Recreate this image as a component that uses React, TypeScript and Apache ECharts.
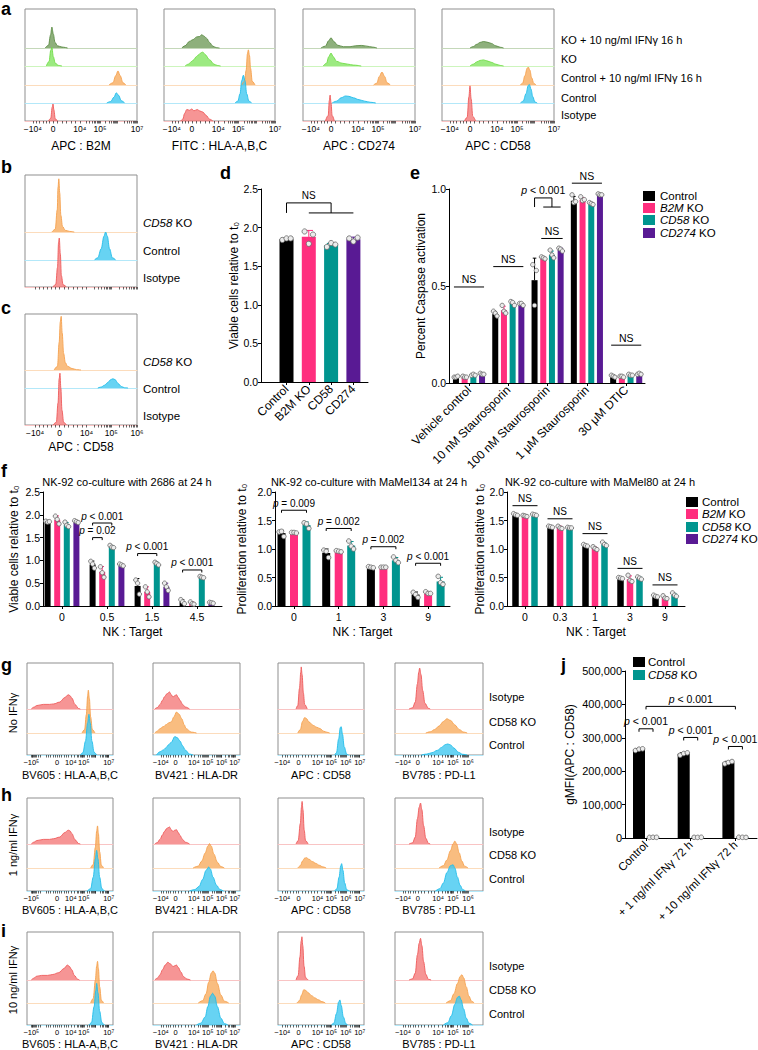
import React, { useEffect, useRef } from 'react';
import * as echarts from 'echarts';

const FONT = '"Liberation Sans", Arial, Helvetica, sans-serif';
const BLACK = '#000000';
const PINK = '#ff2e7e';
const TEAL = '#00958f';
const PURPLE = '#591a94';

const FLOW: Record<string, { line: string; fill: string; base: string }> = {
  dk: { line: '#5b8c45', fill: 'rgba(98,146,74,0.72)', base: '#c4d8b9' },
  lt: { line: '#6fdc45', fill: 'rgba(118,226,80,0.72)', base: '#cdf5bd' },
  or: { line: '#f5a24f', fill: 'rgba(247,170,92,0.78)', base: '#fcdcbc' },
  cy: { line: '#22bdea', fill: 'rgba(60,198,240,0.78)', base: '#b3e8f9' },
  rd: { line: '#ee5a5a', fill: 'rgba(242,108,108,0.72)', base: '#f9c4c4' },
};

// ---------- flow cytometry axes (display position in % of plot width, decade exponent) ----------
const axA = { pos: [7, 25, 49, 67, 100], exp: [-4, 0, 4, 5, 7] };
const axC = { pos: [9, 31, 55, 77, 100], exp: [-4, 0, 4, 5, 6] };
const axG1 = { pos: [5, 20, 35, 51, 66, 95], exp: [-5, -4, 0, 4, 5, 7] };
const axG2 = { pos: [9, 26, 47, 63, 79, 94], exp: [-4, 0, 4, 5, 6, 7] };
const axG3 = { pos: [5, 24, 46, 62, 79, 95], exp: [-4, 0, 4, 5, 6, 7] };
const axG4 = { pos: [9, 26, 49, 66, 83], exp: [-4, 0, 4, 5, 6] };

// ---------- panel a histograms: [x %, height in lane units], lanes top->bottom ----------
const aB2M = [
  [[18, 0], [21, 0.15], [22.8, 0.7], [24, 1.13], [25.3, 0.75], [26.8, 0.3], [29, 0.12], [33, 0.05], [38, 0]],
  [[19, 0], [21.5, 0.25], [23, 0.85], [24, 1.0], [25.3, 0.5], [27, 0.15], [30, 0.03], [33, 0]],
  [[75, 0], [78.5, 0.12], [81, 0.5], [83, 0.76], [85, 0.5], [87.5, 0.12], [90, 0]],
  [[73, 0], [76.5, 0.08], [79.5, 0.32], [81.5, 0.55], [83.5, 0.42], [86, 0.12], [89, 0]],
  [[21, 0], [23, 0.15], [24.3, 0.75], [25, 0.92], [25.8, 0.6], [27, 0.12], [29, 0]],
];
const aHLA = [
  [[16, 0], [19, 0.12], [23, 0.36], [26, 0.45], [29.5, 0.6], [32, 0.62], [34, 0.72], [36, 0.64], [38.5, 0.52], [41, 0.3], [44, 0.1], [47, 0.02], [50, 0]],
  [[19, 0], [22, 0.1], [25, 0.25], [27, 0.35], [29, 0.5], [31, 0.6], [33.5, 0.72], [35, 0.75], [37, 0.62], [41, 0.34], [45, 0.1], [48, 0.03], [51, 0]],
  [[70, 0], [72.5, 0.2], [74, 0.8], [75.2, 1.7], [76, 1.9], [77, 1.6], [78, 0.9], [79.5, 0.2], [82, 0]],
  [[64, 0], [66.5, 0.1], [68.5, 0.5], [70, 1.2], [71.5, 1.5], [73, 1.2], [74.5, 0.5], [76.5, 0.1], [79, 0]],
  [[15, 0], [17, 0.1], [18.5, 0.4], [20.5, 0.62], [23, 0.58], [25, 0.65], [27, 0.55], [30, 0.62], [32, 0.55], [35, 0.48], [38, 0.3], [41, 0.1], [44, 0]],
];
const aCD274 = [
  [[16, 0], [20, 0.1], [23, 0.4], [25, 0.55], [27.5, 0.35], [31, 0.15], [36, 0.07], [42, 0.07], [47, 0.12], [52, 0.14], [57, 0.1], [62, 0.05], [66, 0]],
  [[18, 0], [21, 0.15], [23, 0.5], [25, 0.7], [27, 0.5], [30, 0.25], [35, 0.15], [40, 0.1], [45, 0.05], [52, 0]],
  [[63, 0], [66, 0.1], [68, 0.45], [70.5, 0.7], [73, 0.45], [75, 0.12], [78, 0]],
  [[26, 0], [30, 0.1], [34, 0.28], [38, 0.38], [41, 0.36], [45, 0.28], [50, 0.18], [55, 0.1], [60, 0.04], [65, 0]],
  [[20, 0], [22.5, 0.3], [23.5, 1.1], [24.2, 1.4], [25, 1.0], [26, 0.3], [28, 0]],
];
const aCD58 = [
  [[25, 0], [28, 0.08], [31, 0.2], [34, 0.3], [37, 0.35], [40, 0.32], [44, 0.25], [48, 0.12], [52, 0.04], [55, 0]],
  [[25, 0], [28, 0.1], [31, 0.22], [34, 0.3], [37, 0.33], [40, 0.28], [44, 0.2], [48, 0.1], [52, 0.03], [55, 0]],
  [[70, 0], [72, 0.1], [74, 0.5], [76, 0.9], [77, 0.97], [78.5, 0.8], [80, 0.4], [82, 0.08], [84, 0]],
  [[70, 0], [72.5, 0.1], [75, 0.5], [77, 0.95], [78, 1.0], [79.5, 0.75], [81, 0.35], [83, 0.05], [85, 0]],
  [[20, 0], [22.5, 0.2], [24, 1.3], [25, 1.9], [26, 1.2], [27.5, 0.25], [30, 0]],
];
// panels b, c
const bCD58 = [
  [[24, 0], [27, 0.1], [28.8, 0.8], [29.5, 1.6], [30.2, 1.9], [31, 1.4], [32, 0.6], [33.5, 0.2], [36, 0.06], [40, 0.02], [44, 0]],
  [[62, 0], [65, 0.08], [68, 0.4], [70.5, 0.85], [72, 1.0], [73.5, 0.85], [75.5, 0.4], [78, 0.08], [81, 0]],
  [[25, 0], [27.5, 0.1], [29, 0.7], [30, 1.6], [30.6, 1.75], [31.5, 1.2], [32.5, 0.4], [34, 0.08], [37, 0]],
];
const cCD58 = [
  [[26, 0], [29, 0.2], [30.5, 1.5], [31.5, 2.6], [32.3, 2.9], [33.2, 2.0], [34.5, 0.9], [36, 0.4], [38, 0.2], [42, 0.08], [46, 0.02], [50, 0]],
  [[65, 0], [68, 0.05], [71, 0.15], [74, 0.3], [76.5, 0.45], [78.5, 0.5], [80.5, 0.45], [83, 0.25], [86, 0.08], [89, 0.01], [92, 0]],
  [[25, 0], [28, 0.15], [29.5, 1.2], [30.5, 2.5], [31.2, 2.8], [32, 2.0], [33, 0.8], [34.5, 0.15], [37, 0]],
];
// panels g, h, i (lanes: Isotype, CD58 KO, Control)
const gHLA = [
  [[5, 0], [8, 0.08], [11.5, 0.15], [19, 0.2], [26, 0.2], [31, 0.22], [38, 0.3], [44, 0.5], [48, 0.62], [50, 0.58], [52, 0.48], [56, 0.19], [60, 0.02], [62, 0]],
  [[64, 0], [67, 0.15], [69, 0.8], [70.5, 1.6], [71.3, 1.86], [72.5, 1.5], [74, 0.7], [76, 0.15], [79, 0]],
  [[62, 0], [65, 0.1], [68, 0.6], [70.5, 1.4], [72, 1.77], [73.5, 1.4], [75.5, 0.6], [78, 0.12], [81, 0]],
];
const gDR = [
  [[2, 0], [5, 0.06], [8, 0.19], [11, 0.38], [13, 0.52], [16, 0.66], [19, 0.74], [21, 0.62], [23, 0.52], [25, 0.58], [27, 0.62], [29, 0.5], [31, 0.38], [34, 0.2], [37, 0.09], [42, 0]],
  [[2, 0], [5, 0.08], [8, 0.19], [12, 0.28], [15, 0.36], [18, 0.44], [21, 0.48], [24, 0.7], [27, 0.91], [30, 0.82], [33, 0.62], [36, 0.35], [38, 0.19], [44, 0.04], [50, 0]],
  [[4, 0], [8, 0.14], [12, 0.22], [15, 0.32], [18, 0.45], [21, 0.55], [25, 0.8], [28, 0.75], [31, 0.61], [34, 0.4], [37, 0.22], [42, 0.04], [46, 0]],
];
const gCD58 = [
  [[21, 0], [23, 0.15], [25, 0.9], [26.5, 1.6], [27, 1.83], [28, 1.5], [29.5, 0.7], [31, 0.2], [34, 0]],
  [[23, 0], [26, 0.15], [28.5, 0.5], [31, 0.67], [33, 0.63], [36, 0.48], [41, 0.33], [45, 0.25], [49, 0.19], [53, 0.08], [57, 0.03], [60, 0]],
  [[66, 0], [68, 0.1], [70.5, 0.7], [72.5, 1.2], [73.5, 1.23], [75, 0.9], [77, 0.35], [80, 0.03], [82, 0]],
];
const gPDL1 = [
  [[16, 0], [20, 0.05], [23, 0.3], [25.5, 1.1], [27, 1.6], [28, 1.78], [29.5, 1.5], [31.5, 0.8], [34, 0.25], [38, 0.03], [40, 0]],
  [[35, 0], [40, 0.05], [45, 0.15], [50, 0.3], [55, 0.5], [59, 0.62], [63, 0.55], [68, 0.35], [73, 0.15], [78, 0.04], [82, 0]],
  [[30, 0], [36, 0.04], [42, 0.1], [48, 0.2], [53, 0.33], [57, 0.45], [60, 0.48], [63, 0.44], [67, 0.3], [72, 0.12], [77, 0.03], [82, 0]],
];
const hHLA = [
  [[5, 0], [8, 0.08], [11.5, 0.15], [19, 0.2], [26, 0.2], [31, 0.23], [38, 0.3], [44, 0.5], [48, 0.6], [50, 0.57], [52, 0.46], [56, 0.18], [60, 0.02], [62, 0]],
  [[74, 0], [77, 0.15], [79.5, 0.9], [81, 1.6], [82, 1.83], [83, 1.5], [84.5, 0.7], [86.5, 0.12], [89, 0]],
  [[70, 0], [74, 0.1], [77, 0.6], [79.5, 1.4], [81, 1.77], [82.5, 1.4], [84.5, 0.6], [87, 0.1], [90, 0]],
];
const hDR = [
  [[2, 0], [5, 0.06], [8, 0.2], [11, 0.4], [13, 0.54], [16, 0.68], [19, 0.74], [21, 0.62], [23, 0.54], [25, 0.6], [27, 0.62], [29, 0.5], [31, 0.37], [34, 0.2], [37, 0.08], [42, 0]],
  [[46, 0], [52, 0.08], [56, 0.3], [60, 0.65], [63, 0.95], [65, 1.06], [67, 0.95], [70, 0.6], [74, 0.25], [78, 0.06], [82, 0]],
  [[42, 0], [48, 0.06], [53, 0.2], [57, 0.5], [61, 0.9], [64, 1.04], [66, 0.95], [69, 0.6], [73, 0.25], [77, 0.06], [81, 0]],
];
const hCD58 = [
  [[21, 0], [23.5, 0.15], [26, 0.9], [27.3, 1.6], [28, 1.85], [29, 1.5], [30.5, 0.6], [32, 0.15], [35, 0]],
  [[23, 0], [26, 0.1], [28.5, 0.3], [31, 0.43], [33, 0.45], [36, 0.38], [40, 0.28], [44, 0.2], [48, 0.12], [52, 0.05], [56, 0]],
  [[66, 0], [68.5, 0.1], [71, 0.6], [73, 1.1], [74, 1.19], [75.5, 0.9], [77.5, 0.35], [80, 0.05], [83, 0]],
];
const hPDL1 = [
  [[16, 0], [20, 0.05], [23, 0.3], [25.5, 1.1], [27.5, 1.6], [29, 1.78], [30.5, 1.5], [32.5, 0.8], [35, 0.25], [38, 0.03], [40, 0]],
  [[50, 0], [55, 0.1], [59, 0.35], [63, 0.75], [66, 1.05], [68, 1.17], [70, 1.05], [73, 0.65], [76, 0.3], [79, 0.08], [83, 0]],
  [[46, 0], [51, 0.1], [55, 0.35], [59, 0.8], [63, 1.1], [66, 1.14], [68, 1.0], [71, 0.6], [74, 0.25], [77, 0.06], [80, 0]],
];
const iHLA = [
  [[5, 0], [8, 0.08], [11, 0.16], [17, 0.2], [24, 0.2], [30, 0.24], [37, 0.32], [43, 0.5], [47, 0.65], [49, 0.6], [52, 0.45], [55, 0.2], [59, 0.03], [61, 0]],
  [[74, 0], [77, 0.2], [79.5, 1.0], [81, 1.6], [82, 1.81], [83, 1.5], [84.5, 0.7], [86.5, 0.12], [89, 0]],
  [[72, 0], [75, 0.1], [78, 0.8], [80, 1.5], [81, 1.81], [82.5, 1.4], [84.5, 0.6], [87, 0.1], [90, 0]],
];
const iDR = [
  [[2, 0], [5, 0.08], [8, 0.22], [11, 0.45], [14, 0.65], [17, 0.77], [20, 0.7], [23, 0.58], [25, 0.62], [27, 0.65], [29, 0.55], [32, 0.35], [35, 0.15], [39, 0.04], [43, 0]],
  [[52, 0], [57, 0.1], [61, 0.4], [64, 0.9], [67, 1.3], [69, 1.4], [71, 1.3], [74, 0.85], [78, 0.35], [82, 0.08], [87, 0]],
  [[50, 0], [55, 0.08], [60, 0.35], [63, 0.8], [66, 1.25], [68.5, 1.38], [71, 1.25], [74, 0.8], [78, 0.3], [82, 0.06], [86, 0]],
];
const iCD58 = [
  [[21, 0], [23.5, 0.2], [25.5, 1.0], [27, 1.7], [27.8, 1.88], [28.8, 1.5], [30.3, 0.6], [32, 0.1], [35, 0]],
  [[22, 0], [25, 0.1], [27.5, 0.35], [30, 0.58], [32, 0.55], [35, 0.45], [39, 0.32], [43, 0.22], [47, 0.14], [51, 0.06], [55, 0]],
  [[62, 0], [65, 0.08], [68, 0.5], [70.5, 1.0], [72, 1.09], [73.5, 0.85], [76, 0.35], [79, 0.05], [81, 0]],
];
const iPDL1 = [
  [[16, 0], [20, 0.05], [23, 0.3], [25.5, 1.1], [27.5, 1.6], [29, 1.81], [30.5, 1.5], [32.5, 0.8], [35, 0.25], [38, 0.03], [41, 0]],
  [[58, 0], [63, 0.1], [67, 0.4], [71, 0.85], [74, 1.15], [76, 1.23], [78, 1.1], [81, 0.7], [84, 0.3], [87, 0.08], [90, 0]],
  [[55, 0], [60, 0.1], [64, 0.4], [68, 0.9], [71, 1.2], [73, 1.26], [75, 1.1], [78, 0.7], [81, 0.3], [84, 0.08], [88, 0]],
];

// ---------- panel d ----------
const dCats = ['Control', 'B2M KO', 'CD58', 'CD274'];
const dMeans = [1.85, 1.88, 1.77, 1.85];
const dDots = [[1.84, 1.86, 1.86], [1.95, 1.79, 1.91], [1.75, 1.8, 1.78], [1.86, 1.82, 1.87]];

// ---------- panel e ----------
const eCats = ['Vehicle control', '10 nM Staurosporin', '100 nM Staurosporin', '1 μM Staurosporin', '30 μM DTIC'];
const eCtrl = [0.03, 0.355, 0.53, 0.94, 0.035];
const eCtrlDots = [[0.03, 0.03, 0.035], [0.37, 0.36, 0.345], [0.61, 0.4, 0.58], [0.97, 0.93, 0.935], [0.04, 0.035, 0.03]];
const eB2M = [0.03, 0.375, 0.645, 0.945, 0.035];
const eB2MDots = [[0.035, 0.03, 0.03], [0.4, 0.37, 0.36], [0.65, 0.645, 0.64], [0.96, 0.94, 0.945], [0.035, 0.035, 0.03]];
const eCD58 = [0.04, 0.41, 0.66, 0.925, 0.04];
const eCD58Dots = [[0.04, 0.045, 0.04], [0.42, 0.415, 0.4], [0.685, 0.66, 0.645], [0.93, 0.925, 0.92], [0.045, 0.04, 0.04]];
const eCD274 = [0.045, 0.405, 0.69, 0.97, 0.045];
const eCD274Dots = [[0.05, 0.045, 0.045], [0.41, 0.41, 0.4], [0.695, 0.69, 0.68], [0.975, 0.97, 0.97], [0.045, 0.05, 0.045]];

// ---------- panel f ----------
const f1Cats = ['0', '0.5', '1.5', '4.5'];
const f1Ctrl = [1.85, 0.91, 0.44, 0.09];
const f1CtrlDots = [[1.86, 1.84, 1.85], [0.98, 0.92, 0.83], [0.57, 0.5, 0.26], [0.14, 0.09, 0.05]];
const f1B2M = [1.89, 0.75, 0.31, 0.06];
const f1B2MDots = [[1.97, 1.9, 1.8], [0.86, 0.73, 0.63], [0.42, 0.31, 0.2], [0.09, 0.05, 0.04]];
const f1CD58 = [1.78, 1.3, 0.93, 0.63];
const f1CD58Dots = [[1.84, 1.77, 1.74], [1.33, 1.29, 1.28], [0.96, 0.93, 0.9], [0.65, 0.63, 0.62]];
const f1CD274 = [1.85, 0.9, 0.42, 0.07];
const f1CD274Dots = [[1.87, 1.85, 1.83], [0.92, 0.9, 0.88], [0.5, 0.42, 0.34], [0.08, 0.07, 0.06]];

const f2Cats = ['0', '1', '3', '9'];
const f2Ctrl = [1.28, 0.93, 0.68, 0.2];
const f2CtrlDots = [[1.3, 1.31, 1.22], [0.98, 0.96, 0.85], [0.69, 0.68, 0.67], [0.24, 0.2, 0.15]];
const f2B2M = [1.28, 0.96, 0.68, 0.23];
const f2B2MDots = [[1.29, 1.29, 1.28], [0.97, 0.96, 0.95], [0.68, 0.68, 0.68], [0.25, 0.22, 0.22]];
const f2CD58 = [1.42, 1.06, 0.8, 0.43];
const f2CD58Dots = [[1.46, 1.44, 1.36], [1.14, 1.05, 1.0], [0.86, 0.8, 0.76], [0.52, 0.41, 0.38]];

const f3Cats = ['0', '0.3', '1', '3', '9'];
const f3Ctrl = [1.59, 1.38, 1.05, 0.49, 0.17];
const f3CtrlDots = [[1.62, 1.6, 1.59], [1.4, 1.39, 1.38], [1.08, 1.06, 1.05], [0.5, 0.49, 0.48], [0.19, 0.17, 0.16]];
const f3B2M = [1.57, 1.38, 1.01, 0.47, 0.14];
const f3B2MDots = [[1.59, 1.58, 1.57], [1.4, 1.37, 1.36], [1.04, 1.01, 0.99], [0.54, 0.45, 0.43], [0.18, 0.14, 0.13]];
const f3CD58 = [1.6, 1.37, 1.08, 0.49, 0.19];
const f3CD58Dots = [[1.61, 1.6, 1.59], [1.38, 1.37, 1.37], [1.12, 1.08, 1.06], [0.51, 0.49, 0.47], [0.23, 0.19, 0.17]];

// ---------- panel j ----------
const jCats = ['Control', '+ 1 ng/ml IFNγ 72 h', '+ 10 ng/ml IFNγ 72 h'];
const jCtrl = [265000, 252000, 226000];
const jCtrlDots = [[262000, 266000, 267000], [248000, 253000, 255000], [222000, 226000, 229000]];
const jKO = [2000, 2000, 2000];
const jKODots = [[1800, 2200, 2000], [2000, 1800, 2200], [2200, 2000, 1800]];

const SUP: Record<string, string> = { '0': '⁰', '1': '¹', '2': '²', '3': '³', '4': '⁴', '5': '⁵', '6': '⁶', '7': '⁷', '8': '⁸', '9': '⁹' };
const expLabel = (e: number) =>
  e === 0 ? '0' : (e < 0 ? '−10' : '10') + String(Math.abs(e)).split('').map((c) => SUP[c]).join('');

function tickVals(ax: { pos: number[]; exp: number[] }) {
  const out = [...ax.pos];
  for (let i = 0; i < ax.pos.length - 1; i++) {
    const a = ax.exp[i], b = ax.exp[i + 1], pa = ax.pos[i], pb = ax.pos[i + 1];
    if (a > 0 && b > 0) {
      const k = b - a;
      for (let d = 0; d < k; d++) for (let m = 2; m <= 9; m++) out.push(pa + ((pb - pa) * (d + Math.log10(m))) / k);
    } else if (a < 0 && b < 0) {
      const k = -a + b;
      for (let d = 0; d < k; d++) for (let m = 2; m <= 9; m++) out.push(pb - ((pb - pa) * (d + Math.log10(m))) / k);
    } else {
      for (let f = 1; f < 6; f++) out.push(pa + ((pb - pa) * f) / 6);
    }
  }
  return out;
}

function buildOption() {
  const grids: any[] = [];
  const xAxis: any[] = [];
  const yAxis: any[] = [];
  const series: any[] = [];
  const graphic: any[] = [];

  const addGrid = (g: any, xa: any, ya: any) => {
    const i = grids.length;
    grids.push(g);
    xAxis.push({ gridIndex: i, ...xa });
    yAxis.push({ gridIndex: i, ...ya });
    return i;
  };

  const txt = (x: number, y: number, text: string, o: any = {}) => {
    const size = o.size ?? 11;
    graphic.push({
      type: 'text', x, y, rotation: o.rot ?? 0, silent: true, z: 100,
      style: {
        text, fontFamily: FONT, fontSize: size, fontWeight: o.weight ?? 'normal', fill: '#000',
        align: o.align ?? 'left', textAlign: o.align ?? 'left', verticalAlign: 'middle', textVerticalAlign: 'middle',
        rich: { i: { fontStyle: 'italic', fontFamily: FONT, fontSize: size } },
      },
    });
  };

  const legend = (x: number, ys: number[], items: { color: string; text: string }[], tx: number) => {
    items.forEach((it, k) => {
      graphic.push({ type: 'rect', silent: true, shape: { x, y: ys[k] - 5, width: 12, height: 10 }, style: { fill: it.color } });
      txt(tx, ys[k], it.text, { size: 11.5 });
    });
  };

  const histPanel = (box: any, baselines: number[], unit: number, curves: number[][][], keys: string[], ax: any, showLabels: boolean, labelSize: number) => {
    addGrid(
      { left: box.x, top: box.top, width: box.w, height: box.bottom - box.top, show: true, borderColor: '#8f8f8f', borderWidth: 1, backgroundColor: '#fff' },
      {
        type: 'value', min: 0, max: 100, splitLine: { show: false }, axisLine: { show: false },
        axisTick: { show: true, customValues: tickVals(ax), length: 2.5, lineStyle: { color: '#222', width: 0.7 } },
        axisLabel: {
          show: showLabels, customValues: ax.pos, fontSize: labelSize, fontFamily: FONT, color: '#000', margin: 3,
          hideOverlap: false, showMinLabel: true, showMaxLabel: true,
          formatter: (v: number) => {
            const i = ax.pos.findIndex((p: number) => Math.abs(p - v) < 0.01);
            return i >= 0 ? expLabel(ax.exp[i]) : '';
          },
        },
      },
      { type: 'value', min: 0, max: 1, show: false }
    );
    curves.forEach((pts, li) => {
      const k = FLOW[keys[li]];
      const gi = addGrid(
        { left: box.x, top: baselines[li] - unit, width: box.w, height: unit },
        { type: 'value', min: 0, max: 100, splitLine: { show: false }, axisLine: { show: true, onZero: false, lineStyle: { color: k.base, width: 1 } }, axisTick: { show: false }, axisLabel: { show: false } },
        { type: 'value', min: 0, max: 1, show: false }
      );
      series.push({
        type: 'line', xAxisIndex: gi, yAxisIndex: gi, data: pts, smooth: 0.35, smoothMonotone: 'x', symbol: 'none',
        clip: false, silent: true, z: 3, lineStyle: { color: k.line, width: 0.9 }, areaStyle: { color: k.fill, opacity: 1 },
      });
    });
  };

  const barPanel = (p: any) => {
    const xMin = (p.xPx[0] - p.c0) / p.step;
    const xMax = (p.xPx[1] - p.c0) / p.step;
    const idx = p.cats.map((_: any, i: number) => i);
    const axisStyle = { color: '#000', width: 1 };
    const gi = addGrid(
      { left: p.xPx[0], top: p.yPx[0], width: p.xPx[1] - p.xPx[0], height: p.yPx[1] - p.yPx[0] },
      {
        type: 'value', min: xMin, max: xMax, splitLine: { show: false },
        axisLine: { show: true, onZero: false, lineStyle: axisStyle },
        axisTick: { show: true, customValues: idx, length: 3, lineStyle: axisStyle },
        axisLabel: {
          customValues: idx, formatter: (v: number) => p.cats[Math.round(v)] ?? '', rotate: p.rotate ?? 0,
          fontSize: p.xFont ?? 10.5, fontFamily: FONT, color: '#000', margin: p.xMargin ?? 5, hideOverlap: false,
        },
        name: p.xName, nameLocation: 'middle', nameGap: p.xNameGap ?? 20,
        nameTextStyle: { fontSize: 12, fontFamily: FONT, color: '#000' },
      },
      {
        type: 'value', min: p.yMin, max: p.yMax, interval: p.yInt, splitLine: { show: false },
        axisLine: { show: true, onZero: false, lineStyle: axisStyle },
        axisTick: { show: true, length: 3, lineStyle: axisStyle },
        axisLabel: { formatter: p.yFmt, fontSize: p.yFont ?? 10.5, fontFamily: FONT, color: '#000', margin: 3 },
        name: p.yName, nameLocation: 'middle', nameGap: p.yNameGap,
        nameTextStyle: { fontSize: p.yNameSize ?? 12, fontFamily: FONT, color: '#000' },
      }
    );
    const n = p.series.length;
    p.series.forEach((s: any, si: number) => {
      const off = (si - (n - 1) / 2) * p.barStep;
      series.push({
        type: 'custom', xAxisIndex: gi, yAxisIndex: gi, clip: false, silent: true, z: 3,
        data: s.means.map((m: number, g: number) => [g, m, ...s.dots[g]]),
        encode: { x: 0, y: 1 },
        renderItem: (params: any, api: any) => {
          const g = api.value(0), m = api.value(1);
          const dots = [api.value(2), api.value(3), api.value(4)];
          const color = s.colors ? s.colors[g] : s.color;
          const top = api.coord([g, m]);
          const base = api.coord([g, 0]);
          const cx = top[0] + off;
          const w = p.barWidth;
          const mu = dots.reduce((a: number, b: number) => a + b, 0) / dots.length;
          const sd = Math.sqrt(dots.reduce((a: number, b: number) => a + (b - mu) * (b - mu), 0) / (dots.length - 1));
          const eTop = api.coord([g, m + sd])[1];
          const children: any[] = [
            { type: 'rect', shape: { x: cx - w / 2, y: top[1], width: w, height: base[1] - top[1] }, style: { fill: color } },
            { type: 'line', shape: { x1: cx, y1: top[1], x2: cx, y2: eTop }, style: { stroke: color, lineWidth: 1 } },
            { type: 'line', shape: { x1: cx - w * 0.3, y1: eTop, x2: cx + w * 0.3, y2: eTop }, style: { stroke: color, lineWidth: 1 } },
          ];
          dots.forEach((d: number, k: number) => {
            const py = api.coord([g, d])[1];
            children.push({
              type: 'circle', shape: { cx: cx + (k - 1) * w * 0.3, cy: py, r: p.dotR ?? 2.3 },
              style: { fill: '#ececec', stroke: '#666', lineWidth: 0.8 },
            });
          });
          return { type: 'group', children };
        },
      });
    });
    if (p.anns && p.anns.length) {
      series.push({
        type: 'custom', xAxisIndex: gi, yAxisIndex: gi, clip: false, silent: true, z: 4,
        data: p.anns.map(() => [0, 0]), encode: { x: 0, y: 1 },
        renderItem: (params: any, api: any) => {
          const a = p.anns[params.dataIndex];
          const X = (gs: number[]) => api.coord([gs[0], 0])[0] + (gs[1] - (n - 1) / 2) * p.barStep;
          const Y = (v: number) => api.coord([0, v])[1];
          const ln = (x1: number, y1: number, x2: number, y2: number) => ({ type: 'line', shape: { x1, y1, x2, y2 }, style: { stroke: '#000', lineWidth: 1 } });
          const ch: any[] = [];
          let tx = 0, ty = 0;
          if (a.kind === 'multi') {
            const xa = X(a.a), xb = X(a.b), xc = X(a.c), xm = (xb + xc) / 2, yt = Y(a.yTop), yl = Y(a.yLow);
            ch.push(ln(xa, yt, xm, yt), ln(xa, yt, xa, yl), ln(xm, yt, xm, yl), ln(xb, yl, xc, yl));
            tx = (xa + xm) / 2;
            ty = yt - 2;
          } else {
            const e = a.ext ?? 0;
            const x1 = X(a.a) - e, x2 = X(a.b) + e, y = Y(a.y);
            ch.push(ln(x1, y, x2, y));
            if (a.drop) ch.push(ln(x1, y, x1, y + a.drop), ln(x2, y, x2, y + a.drop));
            tx = (x1 + x2) / 2;
            ty = y - 2;
          }
          const fs = p.annFont ?? 10;
          ch.push({
            type: 'text',
            style: {
              text: a.text, x: tx, y: ty, align: 'center', textAlign: 'center', verticalAlign: 'bottom', textVerticalAlign: 'bottom',
              fontSize: fs, fontFamily: FONT, fill: '#000', rich: { i: { fontStyle: 'italic', fontSize: fs, fontFamily: FONT } },
            },
          });
          return { type: 'group', children: ch };
        },
      });
    }
  };

  const P = '{i|p}';

  // ================= panel a =================
  const aData = [aB2M, aHLA, aCD274, aCD58];
  const aTitles = ['APC : B2M', 'FITC : HLA-A,B,C', 'APC : CD274', 'APC : CD58'];
  const aBox = [[25, 112], [164, 111], [303, 112], [442, 112]];
  aData.forEach((curves, i) => {
    histPanel({ x: aBox[i][0], w: aBox[i][1], top: 9, bottom: 121 }, [48, 66, 85, 103, 121], 18.5, curves, ['dk', 'lt', 'or', 'cy', 'rd'], axA, true, 8.5);
    txt(aBox[i][0] + aBox[i][1] / 2, 146, aTitles[i], { align: 'center', size: 12 });
  });
  const aLanes = ['KO + 10 ng/ml IFNγ 16 h', 'KO', 'Control + 10 ng/ml IFNγ 16 h', 'Control', 'Isotype'];
  [40, 59, 78, 98, 115].forEach((y, k) => txt(561, y, aLanes[k], { size: 11 }));

  // ================= panels b, c =================
  histPanel({ x: 25, w: 112, top: 175, bottom: 287 }, [232, 260, 287], 28, bCD58, ['or', 'cy', 'rd'], axC, false, 8.5);
  histPanel({ x: 25, w: 112, top: 314, bottom: 425 }, [370, 388, 425], 18.5, cCD58, ['or', 'cy', 'rd'], axC, true, 8.5);
  const bcLanes = ['{i|CD58} KO', 'Control', 'Isotype'];
  [223, 251, 278].forEach((y, k) => txt(143, y, bcLanes[k], { size: 11.5 }));
  [362, 389, 416].forEach((y, k) => txt(143, y, bcLanes[k], { size: 11.5 }));
  txt(81, 447, 'APC : CD58', { align: 'center', size: 12 });

  // ================= panel d =================
  barPanel({
    xPx: [261, 368], yPx: [189, 382], c0: 286.5, step: 22.3, cats: dCats, rotate: 45, xFont: 12,
    yMin: 0, yMax: 2.5, yInt: 0.5, yFmt: (v: number) => v.toFixed(1), yName: 'Viable cells relative to t₀', yNameGap: 17,
    barWidth: 14, barStep: 0, dotR: 2.6,
    series: [{ colors: [BLACK, PINK, TEAL, PURPLE], means: dMeans, dots: dDots }],
    anns: [{ kind: 'multi', a: [0, 0], b: [1, 0], c: [3, 0], yTop: 2.32, yLow: 2.19, text: 'NS' }],
  });

  // ================= panel e =================
  barPanel({
    xPx: [449, 645], yPx: [189, 383], c0: 469, step: 39.3, cats: eCats, rotate: 45, xFont: 12,
    yMin: 0, yMax: 1, yInt: 0.5, yFmt: (v: number) => v.toFixed(1), yName: 'Percent Caspase activation', yNameGap: 22,
    barWidth: 6, barStep: 8.7, dotR: 2.2, annFont: 10.5,
    series: [
      { color: BLACK, means: eCtrl, dots: eCtrlDots },
      { color: PINK, means: eB2M, dots: eB2MDots },
      { color: TEAL, means: eCD58, dots: eCD58Dots },
      { color: PURPLE, means: eCD274, dots: eCD274Dots },
    ],
    anns: [
      { kind: 'line', a: [0, 0], b: [0, 3], y: 0.495, text: 'NS', ext: 2 },
      { kind: 'line', a: [1, 0], b: [1, 3], y: 0.6, text: 'NS', ext: 2 },
      { kind: 'line', a: [2, 1], b: [2, 3], y: 0.745, text: 'NS', ext: 2 },
      { kind: 'line', a: [3, 0], b: [3, 3], y: 1.03, text: 'NS', ext: 2 },
      { kind: 'line', a: [4, 0], b: [4, 3], y: 0.195, text: 'NS', ext: 2 },
      { kind: 'multi', a: [2, 0], b: [2, 1], c: [2, 3], yTop: 0.954, yLow: 0.907, text: P + ' < 0.001' },
    ],
  });
  legend(643, [196, 208, 220, 233], [
    { color: BLACK, text: 'Control' }, { color: PINK, text: '{i|B2M} KO' },
    { color: TEAL, text: '{i|CD58} KO' }, { color: PURPLE, text: '{i|CD274} KO' },
  ], 660);

  // ================= panel f =================
  barPanel({
    xPx: [43, 222], yPx: [492, 606], c0: 62, step: 45, cats: f1Cats, xFont: 10.5,
    yMin: 0, yMax: 2.5, yInt: 0.5, yFmt: (v: number) => v.toFixed(1), yName: 'Viable cells relative to t₀', yNameGap: 23, yNameSize: 12,
    xName: 'NK : Target', xNameGap: 20, barWidth: 6, barStep: 9.6, dotR: 2.2,
    series: [
      { color: BLACK, means: f1Ctrl, dots: f1CtrlDots },
      { color: PINK, means: f1B2M, dots: f1B2MDots },
      { color: TEAL, means: f1CD58, dots: f1CD58Dots },
      { color: PURPLE, means: f1CD274, dots: f1CD274Dots },
    ],
    anns: [
      { kind: 'line', a: [1, 0], b: [1, 2], y: 1.82, text: P + ' < 0.001', drop: 2.5 },
      { kind: 'line', a: [1, 0], b: [1, 1], y: 1.5, text: P + ' = 0.02', drop: 2.5 },
      { kind: 'line', a: [2, 0], b: [2, 2], y: 1.15, text: P + ' < 0.001', drop: 2.5 },
      { kind: 'line', a: [3, 0], b: [3, 2], y: 0.79, text: P + ' < 0.001', drop: 2.5 },
    ],
  });
  barPanel({
    xPx: [275, 450], yPx: [492, 606], c0: 294, step: 44.7, cats: f2Cats, xFont: 10.5,
    yMin: 0, yMax: 2, yInt: 0.5, yFmt: (v: number) => v.toFixed(1), yName: 'Proliferation relative to t₀', yNameGap: 27, yNameSize: 12,
    xName: 'NK : Target', xNameGap: 20, barWidth: 8, barStep: 12.5, dotR: 2.3,
    series: [
      { color: BLACK, means: f2Ctrl, dots: f2CtrlDots },
      { color: PINK, means: f2B2M, dots: f2B2MDots },
      { color: TEAL, means: f2CD58, dots: f2CD58Dots },
    ],
    anns: [
      { kind: 'line', a: [0, 0], b: [0, 2], y: 1.68, text: P + ' = 0.009', drop: 2.5 },
      { kind: 'line', a: [1, 0], b: [1, 2], y: 1.36, text: P + ' = 0.002', drop: 2.5 },
      { kind: 'line', a: [2, 0], b: [2, 2], y: 1.04, text: P + ' = 0.002', drop: 2.5 },
      { kind: 'line', a: [3, 0], b: [3, 2], y: 0.75, text: P + ' < 0.001', drop: 2.5 },
    ],
  });
  barPanel({
    xPx: [507, 685], yPx: [492, 606], c0: 525, step: 35, cats: f3Cats, xFont: 10.5,
    yMin: 0, yMax: 2, yInt: 0.5, yFmt: (v: number) => v.toFixed(1), yName: 'Proliferation relative to t₀', yNameGap: 19, yNameSize: 12,
    xName: 'NK : Target', xNameGap: 20, barWidth: 6.5, barStep: 9.5, dotR: 2.2,
    series: [
      { color: BLACK, means: f3Ctrl, dots: f3CtrlDots },
      { color: PINK, means: f3B2M, dots: f3B2MDots },
      { color: TEAL, means: f3CD58, dots: f3CD58Dots },
    ],
    anns: [
      { kind: 'line', a: [0, 0], b: [0, 2], y: 1.76, text: 'NS', ext: 3 },
      { kind: 'line', a: [1, 0], b: [1, 2], y: 1.53, text: 'NS', ext: 3 },
      { kind: 'line', a: [2, 0], b: [2, 2], y: 1.27, text: 'NS', ext: 3 },
      { kind: 'line', a: [3, 0], b: [3, 2], y: 0.66, text: 'NS', ext: 3 },
      { kind: 'line', a: [4, 0], b: [4, 2], y: 0.37, text: 'NS', ext: 3 },
    ],
  });
  txt(127, 482, 'NK-92 co-culture with 2686 at 24 h', { align: 'center', size: 11 });
  txt(369, 482, 'NK-92 co-culture with MaMel134 at 24 h', { align: 'center', size: 11 });
  txt(600, 482, 'NK-92 co-culture with MaMel80 at 24 h', { align: 'center', size: 11 });
  legend(686, [502, 514, 527, 539], [
    { color: BLACK, text: 'Control' }, { color: PINK, text: '{i|B2M} KO' },
    { color: TEAL, text: '{i|CD58} KO' }, { color: PURPLE, text: '{i|CD274} KO' },
  ], 702);

  // ================= panels g, h, i =================
  const colBox = [[27, 86], [153, 87], [278, 86], [395, 88]];
  const colAx = [axG1, axG2, axG3, axG4];
  const colTitles = ['BV605 : HLA-A,B,C', 'BV421 : HLA-DR', 'APC : CD58', 'BV785 : PD-L1'];
  const rows = [
    { data: [gHLA, gDR, gCD58, gPDL1], top: 663, bottom: 755, base: [709, 733, 755], title: 775, labelYs: [697, 722, 745], name: 'No IFNγ', nameY: 713 },
    { data: [hHLA, hDR, hCD58, hPDL1], top: 798, bottom: 891, base: [844, 868, 891], title: 910, labelYs: [832, 855, 879], name: '1 ng/ml IFNγ', nameY: 845 },
    { data: [iHLA, iDR, iCD58, iPDL1], top: 932, bottom: 1025, base: [980, 1003, 1025], title: 1044, labelYs: [966, 990, 1014], name: '10 ng/ml IFNγ', nameY: 980 },
  ];
  const ghiLanes = ['Isotype', 'CD58 KO', 'Control'];
  rows.forEach((r) => {
    r.data.forEach((curves, c) => {
      histPanel({ x: colBox[c][0], w: colBox[c][1], top: r.top, bottom: r.bottom }, r.base, 23, curves, ['rd', 'or', 'cy'], colAx[c], true, 7.5);
      txt(colBox[c][0] + colBox[c][1] / 2, r.title, colTitles[c], { align: 'center', size: 11 });
    });
    r.labelYs.forEach((y, k) => txt(489, y, ghiLanes[k], { size: 11 }));
    txt(13, r.nameY, r.name, { align: 'center', size: 11, rot: Math.PI / 2 });
  });

  // ================= panel j =================
  barPanel({
    xPx: [625, 757], yPx: [671, 838], c0: 646, step: 44.7, cats: jCats, rotate: 45, xFont: 11.5,
    yMin: 0, yMax: 500000, yInt: 100000, yFmt: (v: number) => (v === 0 ? '0' : v.toLocaleString('en-US')), yFont: 11,
    yName: 'gMFI(APC : CD58)', yNameGap: 49, barWidth: 12, barStep: 14, dotR: 2.3, annFont: 10.5,
    series: [
      { color: BLACK, means: jCtrl, dots: jCtrlDots },
      { color: TEAL, means: jKO, dots: jKODots },
    ],
    anns: [
      { kind: 'line', a: [0, 0.5], b: [2, 0.5], y: 394000, text: P + ' < 0.001', drop: 3 },
      { kind: 'line', a: [0, 0], b: [0, 1], y: 327000, text: P + ' < 0.001', drop: 3 },
      { kind: 'line', a: [1, 0], b: [1, 1], y: 301000, text: P + ' < 0.001', drop: 3 },
      { kind: 'line', a: [2, 0], b: [2, 1], y: 274000, text: P + ' < 0.001', drop: 3 },
    ],
  });
  legend(633, [662, 675], [{ color: BLACK, text: 'Control' }, { color: TEAL, text: '{i|CD58} KO' }], 648);

  // ================= panel letters =================
  const letters: [string, number, number][] = [
    ['a', 1, 9], ['b', 1, 167], ['c', 1, 308], ['d', 220, 173], ['e', 410, 173],
    ['f', 1, 471], ['g', 1, 665], ['h', 1, 795], ['i', 1, 931], ['j', 561, 665],
  ];
  letters.forEach(([l, x, y]) => txt(x, y, l, { size: 18, weight: 'bold' }));

  return {
    animation: false,
    backgroundColor: '#ffffff',
    textStyle: { fontFamily: FONT },
    grid: grids,
    xAxis,
    yAxis,
    series,
    graphic: { elements: graphic },
  };
}

export default function App() {
  const ref = useRef<HTMLDivElement>(null);
  useEffect(() => {
    const chart = echarts.init(ref.current as HTMLDivElement, null, { renderer: 'svg', width: 758, height: 1050 });
    chart.setOption(buildOption() as any);
    return () => chart.dispose();
  }, []);
  return <div ref={ref} style={{ position: 'absolute', left: 0, top: 0, width: 758, height: 1050, background: '#fff' }} />;
}
